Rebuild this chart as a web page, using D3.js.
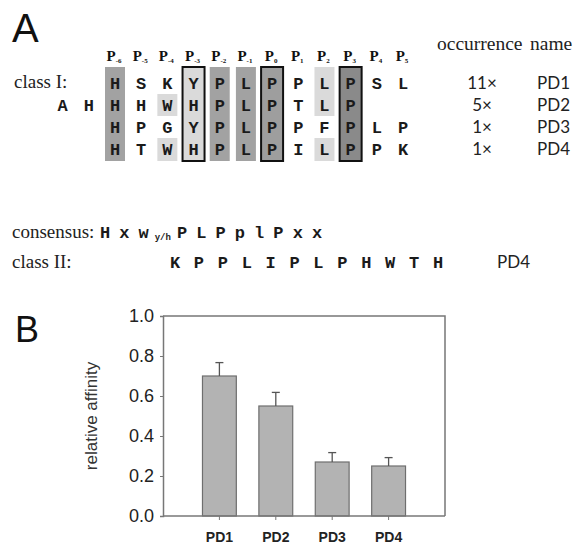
<!DOCTYPE html>
<html>
<head>
<meta charset="utf-8">
<script src="https://cdn.jsdelivr.net/npm/d3@7"></script>
<style>
  body { margin: 0; background: #fff; }
</style>
</head>
<body>
<svg id="fig"></svg>
<script>
// panel A data
var positions = ['-6', '-5', '-4', '-3', '-2', '-1', '0', '1', '2', '3', '4', '5']
var class1Rows = ['HSKYPLPPLPSL', 'HHWHPLPTLP', 'HPGYPLPPFPLP', 'HTWHPLPILPPK']
var rowPrefix = ['', 'AH', '', '']
var occurrence = ['11×', '5×', '1×', '1×']
var names = ['PD1', 'PD2', 'PD3', 'PD4']
var conservedCols = [0, 4, 5]
var boxedCols = [3, 6, 9]
var boxedTone = ['light', 'mid', 'dark']
var similarCols = [2, 2, 8, 8]
var similarRows = [[1, 1], [3, 3], [0, 1], [3, 3]]
var consensus = ['H', 'x', 'w', 'y/h', 'P', 'L', 'P', 'p', 'l', 'P', 'x', 'x']
var class2Seq = 'KPPLIPLPHWTH'
var class2Name = 'PD4'

// panel B data
var categories = ['PD1', 'PD2', 'PD3', 'PD4']
var affinity = [0.70, 0.55, 0.27, 0.25]
var affinityErr = [0.067, 0.068, 0.047, 0.042]
var yTicks = [0, 0.2, 0.4, 0.6, 0.8, 1.0]

var width = 576
var height = 546
var svg = d3.select('#fig').attr('width', width).attr('height', height)

var mono = '"Liberation Mono", "Courier New", monospace'
var serif = '"Liberation Serif", "Times New Roman", serif'
var sans = '"Liberation Sans", Arial, sans-serif'
var tones = { light: '#dadada', mid: '#9e9e9e', dark: '#8a8a8a', conserved: '#a2a2a2' }

// ---------- panel A ----------
svg.append('text').attr('x', 12).attr('y', 42)
  .attr('font-family', sans).attr('font-size', 40).attr('fill', '#111').text('A')

var colX = d3.scaleLinear().domain([0, 11]).range([115, 403])
var rowY = d3.scaleBand().domain(d3.range(4)).range([72, 160])
var colTop = 67
var colBottom = 161

var shade = svg.append('g')
// dark conserved columns
shade.selectAll('rect.cons').data(conservedCols).enter().append('rect')
  .attr('x', function (d) { return colX(d) - 10 })
  .attr('y', colTop)
  .attr('width', 20)
  .attr('height', colBottom - colTop)
  .attr('fill', tones.conserved)
// light similar blocks
shade.selectAll('rect.sim').data(similarCols).enter().append('rect')
  .attr('x', function (d) { return colX(d) - 10 })
  .attr('y', function (d, i) {
    var r = similarRows[i][0]
    return r === 0 ? colTop : rowY(r)
  })
  .attr('height', function (d, i) {
    var r0 = similarRows[i][0], r1 = similarRows[i][1]
    var top = r0 === 0 ? colTop : rowY(r0)
    var bot = r1 === 3 ? colBottom : rowY(r1) + rowY.bandwidth()
    return bot - top
  })
  .attr('width', 20)
  .attr('fill', tones.light)
// boxed key positions
shade.selectAll('rect.box').data(boxedCols).enter().append('rect')
  .attr('x', function (d) { return colX(d) - 11 })
  .attr('y', colTop)
  .attr('width', 22)
  .attr('height', colBottom - colTop)
  .attr('fill', function (d, i) { return tones[boxedTone[i]] })
  .attr('stroke', '#111')
  .attr('stroke-width', 2)

// position header P-6 ... P5
var header = svg.append('g').selectAll('text').data(positions).enter().append('text')
  .attr('x', function (d, i) { return colX(i) - 1 })
  .attr('y', 61)
  .attr('text-anchor', 'middle')
  .attr('font-family', serif)
  .attr('font-weight', 'bold')
  .attr('font-size', 15)
  .attr('fill', '#111')
header.append('tspan').text('P')
header.append('tspan').attr('font-size', 7).attr('dy', 2).text(function (d) { return d })

// residues
var letters = svg.append('g')
  .attr('font-family', mono).attr('font-weight', 'bold').attr('font-size', 17).attr('fill', '#1a1a1a')
class1Rows.forEach(function (seq, r) {
  var chars = seq.split('')
  letters.selectAll(null).data(chars).enter().append('text')
    .attr('x', function (d, i) { return colX(i) })
    .attr('y', rowY(r) + rowY.bandwidth() / 2 + 6)
    .attr('text-anchor', 'middle')
    .text(function (d) { return d })
  var pre = rowPrefix[r].split('')
  letters.selectAll(null).data(pre).enter().append('text')
    .attr('x', function (d, i) { return colX(i - pre.length) })
    .attr('y', rowY(r) + rowY.bandwidth() / 2 + 6)
    .attr('text-anchor', 'middle')
    .text(function (d) { return d })
})

svg.append('text').attr('x', 14).attr('y', 88)
  .attr('font-family', serif).attr('font-size', 19).attr('fill', '#222').text('class I:')

// occurrence / name columns
svg.append('text').attr('x', 437).attr('y', 50)
  .attr('font-family', serif).attr('font-size', 19.5).attr('fill', '#222').text('occurrence')
svg.append('text').attr('x', 530).attr('y', 50)
  .attr('font-family', serif).attr('font-size', 19.5).attr('fill', '#222').text('name')
svg.append('g').selectAll('text').data(occurrence).enter().append('text')
  .attr('x', 482)
  .attr('y', function (d, i) { return rowY(i) + rowY.bandwidth() / 2 + 6 })
  .attr('text-anchor', 'middle')
  .attr('font-family', 'Lato, sans-serif').attr('font-size', 17).attr('fill', '#222')
  .text(function (d) { return d })
svg.append('g').selectAll('text').data(names).enter().append('text')
  .attr('x', 537)
  .attr('y', function (d, i) { return rowY(i) + rowY.bandwidth() / 2 + 6 })
  .attr('font-family', 'Lato, sans-serif').attr('font-size', 17).attr('fill', '#222')
  .text(function (d) { return d })

// consensus line
svg.append('text').attr('x', 12).attr('y', 238)
  .attr('font-family', serif).attr('font-size', 19).attr('fill', '#222').text('consensus:')
var consX = d3.scalePoint().domain(d3.range(consensus.length)).range([105, 317])
svg.append('g').selectAll('text').data(consensus).enter().append('text')
  .attr('x', function (d, i) { return consX(i) })
  .attr('y', function (d) { return d === 'y/h' ? 240 : 238 })
  .attr('text-anchor', 'middle')
  .attr('font-family', mono).attr('font-weight', 'bold')
  .attr('font-size', function (d) { return d === 'y/h' ? 9 : 17 })
  .attr('fill', '#1a1a1a')
  .text(function (d) { return d })

// class II line
svg.append('text').attr('x', 12).attr('y', 268)
  .attr('font-family', serif).attr('font-size', 19).attr('fill', '#222').text('class II:')
var c2X = d3.scalePoint().domain(d3.range(class2Seq.length)).range([175, 438])
svg.append('g').selectAll('text').data(class2Seq.split('')).enter().append('text')
  .attr('x', function (d, i) { return c2X(i) })
  .attr('y', 268)
  .attr('text-anchor', 'middle')
  .attr('font-family', mono).attr('font-weight', 'bold').attr('font-size', 17).attr('fill', '#1a1a1a')
  .text(function (d) { return d })
svg.append('text').attr('x', 497).attr('y', 268)
  .attr('font-family', 'Lato, sans-serif').attr('font-size', 17).attr('fill', '#222').text(class2Name)

// ---------- panel B ----------
svg.append('text').attr('x', 15).attr('y', 342)
  .attr('font-family', sans).attr('font-size', 36).attr('fill', '#111').text('B')

var plot = { left: 163, right: 445, top: 316, bottom: 516 }
var y = d3.scaleLinear().domain([0, 1]).range([plot.bottom, plot.top])
var step = (plot.right - plot.left) / (categories.length + 1)
var x = d3.scaleBand().domain(categories)
  .range([plot.left + step / 2, plot.right - step / 2])
  .paddingInner(0.4).paddingOuter(0.2)

// frame top + right
svg.append('path')
  .attr('d', 'M' + plot.left + ',' + plot.top + 'H' + plot.right + 'V' + plot.bottom)
  .attr('fill', 'none').attr('stroke', '#777').attr('stroke-width', 1.5)

// bars
svg.append('g').selectAll('rect').data(affinity).enter().append('rect')
  .attr('x', function (d, i) { return x(categories[i]) })
  .attr('y', function (d) { return y(d) })
  .attr('width', x.bandwidth())
  .attr('height', function (d) { return y(0) - y(d) })
  .attr('fill', '#b3b3b3')
  .attr('stroke', '#6e6e6e')
  .attr('stroke-width', 1.2)

// error bars (upper only)
var err = svg.append('g').attr('stroke', '#555').attr('stroke-width', 1.3)
err.selectAll('line.v').data(affinity).enter().append('line')
  .attr('x1', function (d, i) { return x(categories[i]) + x.bandwidth() / 2 })
  .attr('x2', function (d, i) { return x(categories[i]) + x.bandwidth() / 2 })
  .attr('y1', function (d) { return y(d) })
  .attr('y2', function (d, i) { return y(d + affinityErr[i]) })
err.selectAll('line.h').data(affinity).enter().append('line')
  .attr('x1', function (d, i) { return x(categories[i]) + x.bandwidth() / 2 - 4 })
  .attr('x2', function (d, i) { return x(categories[i]) + x.bandwidth() / 2 + 4 })
  .attr('y1', function (d, i) { return y(d + affinityErr[i]) })
  .attr('y2', function (d, i) { return y(d + affinityErr[i]) })

// axes
var leftAxis = d3.axisLeft(y).tickValues(yTicks).tickFormat(d3.format('.1f')).tickSize(3).tickPadding(6)
var gy = svg.append('g').attr('transform', 'translate(' + plot.left + ',0)').call(leftAxis)
gy.select('.domain').attr('stroke', '#777').attr('stroke-width', 1.5)
gy.selectAll('.tick line').attr('stroke', '#777')
gy.selectAll('text').attr('font-family', sans).attr('font-size', 18).attr('fill', '#222')

var bottomAxis = d3.axisBottom(x).tickSize(4).tickPadding(12)
var gx = svg.append('g').attr('transform', 'translate(0,' + plot.bottom + ')').call(bottomAxis)
gx.select('.domain').remove()
gx.selectAll('.tick line').attr('stroke', '#777')
gx.selectAll('text').attr('font-family', sans).attr('font-weight', 'bold').attr('font-size', 14).attr('fill', '#222')
svg.append('line')
  .attr('x1', plot.left).attr('x2', plot.right)
  .attr('y1', plot.bottom).attr('y2', plot.bottom)
  .attr('stroke', '#777').attr('stroke-width', 1.5)

svg.append('text')
  .attr('transform', 'translate(97,' + (plot.top + plot.bottom) / 2 + ') rotate(-90)')
  .attr('text-anchor', 'middle')
  .attr('font-family', sans).attr('font-size', 17).attr('fill', '#333')
  .text('relative affinity')
</script>
</body>
</html>
